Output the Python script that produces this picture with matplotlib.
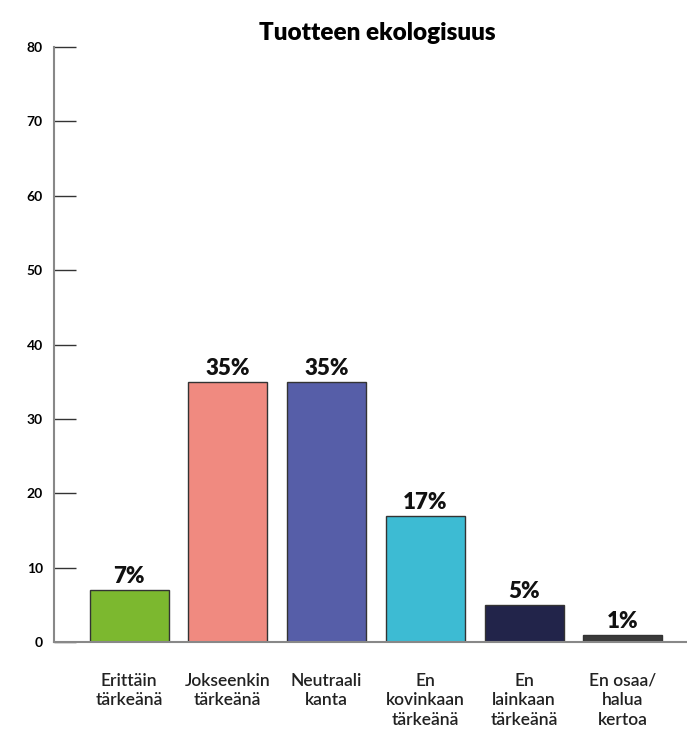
import numpy as np
import matplotlib.pyplot as plt

plt.rcParams['font.family'] = ['Lato', 'DejaVu Sans']

categories = ['Erittäin\ntärkeänä', 'Jokseenkin\ntärkeänä', 'Neutraali\nkanta',
              'En\nkovinkaan\ntärkeänä', 'En\nlainkaan\ntärkeänä', 'En osaa/\nhalua\nkertoa']
values = [7, 35, 35, 17, 5, 1]
colors = ['#7cb82f', '#f08a80', '#565ea8', '#3dbbd3', '#22244a', '#3a3a3a']

fig = plt.figure(figsize=(6.87, 7.29), dpi=100)
ax = fig.add_axes([0.0786, 0.1193, 0.9214, 0.8162])

x = np.arange(len(values))
ax.bar(x, values, width=0.8, color=colors, edgecolor='#333333', linewidth=1)
for xi, v in zip(x, values):
    ax.text(xi, v + 0.4, f'{v}%', ha='center', va='bottom', fontsize=16, fontweight='heavy', color='#111111')

ax.set_xlim(-0.76, 5.65)
ax.set_ylim(0, 80)
ax.set_yticks(range(0, 81, 10))
ax.tick_params(axis='y', direction='in', length=16, width=1, color='#333333', labelsize=10, pad=8)
for lab in ax.get_yticklabels():
    lab.set_fontweight('bold')
ax.set_xticks(x)
ax.set_xticklabels(categories, fontsize=12.5, linespacing=1.3, color='#222222', fontweight='semibold')
ax.tick_params(axis='x', length=0, pad=22)

for s in ['top', 'right']:
    ax.spines[s].set_visible(False)
ax.spines['left'].set_color('#888888')
ax.spines['bottom'].set_color('#888888')
ax.spines['left'].set_linewidth(1.5)
ax.spines['bottom'].set_linewidth(1.5)

fig.text(0.549, 0.955, 'Tuotteen ekologisuus', ha='center', va='center', fontsize=17.5, fontweight='heavy')

fig.savefig('out.png', dpi=100)
